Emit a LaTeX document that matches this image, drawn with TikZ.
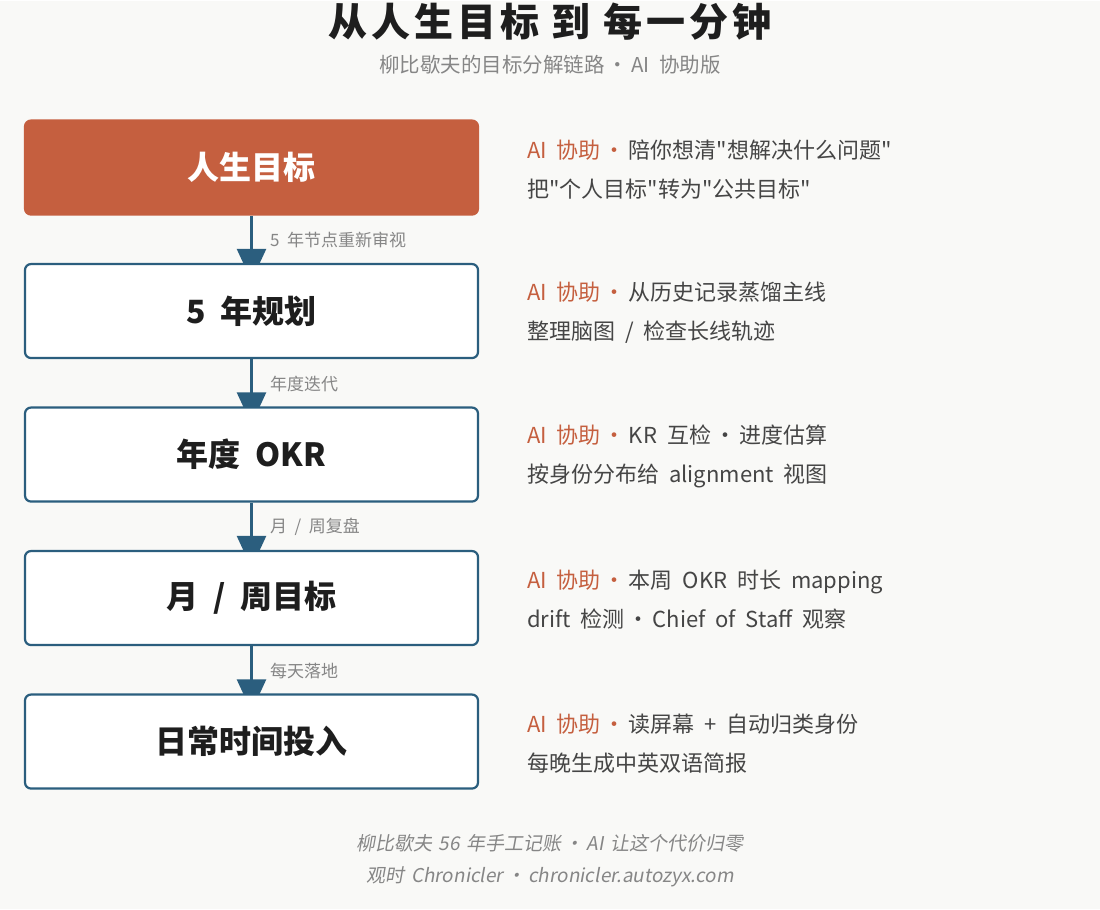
\documentclass[tikz,border=0pt]{standalone}
\usepackage{fontspec}
\setmainfont{Noto Sans CJK SC}
\newfontfamily\cjkfont{Noto Sans CJK SC}[WordSpace=2]
\newfontfamily\titlefont{Noto Sans CJK SC}[LetterSpace=10]
\newfontfamily\slantfont{Noto Sans CJK SC}[FakeSlant=0.18, WordSpace=1.6]
\usetikzlibrary{arrows.meta, positioning, calc, backgrounds}
\definecolor{Rust}{HTML}{C55F3F}
\definecolor{DeepSea}{HTML}{2B5E7E}
\definecolor{Ink}{HTML}{1E1E1E}
\definecolor{BodyGray}{HTML}{454545}
\definecolor{MuteGray}{HTML}{868686}
\definecolor{Paper}{HTML}{F9F9F7}

\tikzset{
  stagebox/.style={draw=DeepSea, line width=2.2pt, fill=white, rounded corners=6pt,
                   minimum width=453pt, minimum height=94pt, inner sep=0pt, text=Ink,
                   font=\bfseries\fontsize{32}{38}\selectfont},
  flow/.style={draw=DeepSea, line width=2.4pt,
               -{Triangle[width=29pt,length=32pt]}},
  flowlabel/.style={anchor=west, text=MuteGray, font=\fontsize{17}{20}\selectfont},
  aside/.style={align=left, text=BodyGray, inner sep=0pt,
                font=\fontsize{22}{39}\selectfont},
  footline/.style={text=MuteGray, font=\slantfont\fontsize{19}{22}\selectfont}
}
\newcommand{\midsep}{\hspace{3pt}·\hspace{3pt}}
\newcommand{\dq}{"}
\newcommand{\aihelp}{{\color{Rust}AI 协助\midsep}}

\begin{document}
\cjkfont
\begin{tikzpicture}[x=1pt, y=-1pt, node distance=47.3pt]
% header
\node[text=Ink, font=\titlefont\bfseries\fontsize{39}{44}\selectfont]
  (title) at (550,21) {从人生目标 到 每一分钟};
\node[text=MuteGray, font=\fontsize{20.5}{24}\selectfont]
  (subtitle) at (550,64) {柳比歇夫的目标分解链路\midsep AI 协助版};

% chain of goals
\node[stagebox, draw=Rust, fill=Rust, text=white] (life) at (251.5,166.5) {人生目标};
\node[stagebox, below=of life]  (five)  {5 年规划};
\node[stagebox, below=of five]  (year)  {年度 OKR};
\node[stagebox, below=of year]  (week)  {月 / 周目标};
\node[stagebox, below=of week]  (daily) {日常时间投入};

% AI notes
\node[aside, right=48pt of life, yshift=-2pt]
  {\aihelp 陪你想清\dq 想解决什么问题\dq\\把\dq 个人目标\dq 转为\dq 公共目标\dq};
\node[aside, right=48pt of five, yshift=-2pt]
  {\aihelp 从历史记录蒸馏主线\\整理脑图 / 检查长线轨迹};
\node[aside, right=48pt of year, yshift=-2pt]
  {\aihelp KR 互检\midsep 进度估算\\按身份分布给 alignment 视图};
\node[aside, right=48pt of week, yshift=-2pt]
  {\aihelp 本周 OKR 时长 mapping\\drift 检测\midsep Chief of Staff 观察};
\node[aside, right=48pt of daily, yshift=-2pt]
  {\aihelp 读屏幕 + 自动归类身份\\每晚生成中英双语简报};

% links
\node[flowlabel] at ($(life.south)!0.5!(five.north)+(15,1)$)  {5 年节点重新审视};
\node[flowlabel] at ($(five.south)!0.5!(year.north)+(15,1)$)  {年度迭代};
\node[flowlabel] at ($(year.south)!0.5!(week.north)+(15,1)$)  {月 / 周复盘};
\node[flowlabel] at ($(week.south)!0.5!(daily.north)+(15,1)$) {每天落地};

% footer
\node[footline] (foot1) at (550,842) {柳比歇夫 56 年手工记账\midsep AI 让这个代价归零};
\node[footline] (foot2) at (550,876) {观时 Chronicler\midsep chronicler.autozyx.com};

\begin{scope}[on background layer]
  \fill[Paper] (0,0) rectangle (1100,908);
  \draw[flow] (life) -- ($(five.north)+(0,18)$);
  \draw[flow] (five) -- ($(year.north)+(0,18)$);
  \draw[flow] (year) -- ($(week.north)+(0,18)$);
  \draw[flow] (week) -- ($(daily.north)+(0,18)$);
\end{scope}
\useasboundingbox (0,0) rectangle (1100,908);
\end{tikzpicture}
\end{document}
